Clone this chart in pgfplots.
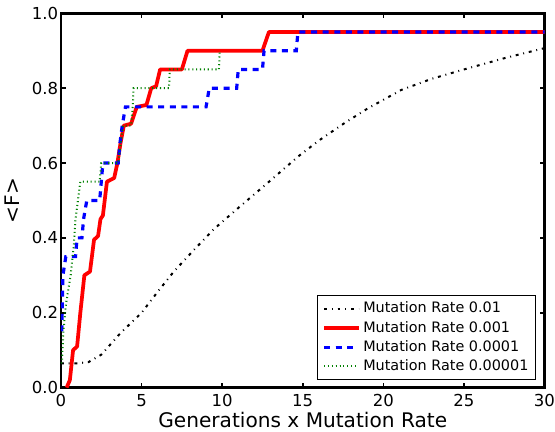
\documentclass[border=0pt]{standalone}
\usepackage{pgfplots}
\pgfplotsset{compat=1.18}
\usepackage{fontspec}
\setmainfont{DejaVu Sans}
\begin{document}
\begin{tikzpicture}
\begin{axis}[
  scale only axis, width=363pt, height=281pt,
  xmin=0, xmax=30, ymin=0, ymax=1,
  xtick={0,5,10,15,20,25,30},
  ytick={0,0.2,0.4,0.6,0.8,1},
  yticklabel style={/pgf/number format/fixed,/pgf/number format/fixed zerofill,/pgf/number format/precision=1},
  /pgf/number format/assume math mode=true,
  tick label style={font=\fontsize{12.4}{14}\selectfont, inner sep=0pt},
  xticklabel style={yshift=-5pt},
  yticklabel style={xshift=-2pt},
  label style={font=\fontsize{15.1}{17}\selectfont},
  xlabel={Generations x Mutation Rate},
  ylabel={<F>},
  xlabel style={yshift=0pt},
  ylabel style={yshift=6pt},
  axis line style={line width=1.8pt},
  major tick length=3.5pt,
  every tick/.style={black,line width=1.2pt},
  tick align=inside,
  legend image code/.code={\draw[#1,line cap=butt] (0pt,0pt) -- (17pt,0pt); \path (0pt,0pt) -- (26pt,0pt);},
  legend style={at={(0.983,0.021)},anchor=south east,draw=black,line width=0.6pt,
    font=\fontsize{10.8}{13}\selectfont,cells={anchor=west},row sep=0.8pt,
    inner xsep=3.6pt, inner ysep=2.8pt},
]
\addplot[black, line width=1.5pt, dash pattern=on 2.2pt off 3.6pt on 0.7pt off 3.6pt] coordinates {
(0,0.065)(1,0.065)(1.7,0.068)(2.5,0.088)(3.7,0.146)(5,0.2)(6,0.256)(7,0.31)(8.25,0.368)(9.5,0.424)(11,0.48)(12.5,0.535)(14.76,0.619)(16,0.66)(17.6,0.707)(19,0.745)(21.1,0.795)(23,0.825)(25,0.85)(27.5,0.88)(30,0.907)};
\addlegendentry{Mutation Rate 0.01}
\addplot[red, line width=2.8pt, line join=round] coordinates {
(0.35,0)(0.55,0.02)(0.75,0.1)(1.0,0.11)(1.2,0.2)(1.45,0.3)(1.8,0.31)(2.05,0.395)(2.3,0.405)(2.45,0.45)(2.6,0.46)(2.85,0.55)(3.3,0.56)(3.5,0.6)(3.7,0.655)(3.9,0.7)(4.35,0.705)(4.7,0.75)(5.3,0.755)(5.6,0.8)(5.9,0.805)(6.15,0.85)(7.5,0.85)(7.85,0.9)(12.5,0.9)(12.9,0.95)(30,0.95)};
\addlegendentry{Mutation Rate 0.001}
\addplot[blue, line width=2.4pt, dash pattern=on 4.5pt off 4.2pt] coordinates {
(0.05,0.15)(0.12,0.3)(0.3,0.35)(0.9,0.35)(1.0,0.4)(1.3,0.4)(1.4,0.45)(1.6,0.5)(2.4,0.5)(2.5,0.55)(2.6,0.6)(3.55,0.6)(3.65,0.65)(3.8,0.7)(4.0,0.75)(9.0,0.75)(9.2,0.8)(10.9,0.8)(11.0,0.85)(12.5,0.85)(12.6,0.9)(14.6,0.9)(14.7,0.95)(30,0.95)};
\addlegendentry{Mutation Rate 0.0001}
\addplot[color={rgb,1:red,0;green,0.5;blue,0}, line width=1.5pt, dash pattern=on 0.8pt off 2.1pt] coordinates {
(0,0.065)(0.06,0.07)(0.15,0.15)(0.3,0.22)(0.41,0.25)(0.6,0.3)(0.72,0.35)(0.8,0.38)(0.9,0.45)(1.05,0.5)(1.2,0.55)(2.4,0.55)(2.5,0.6)(3.55,0.6)(3.7,0.65)(3.85,0.7)(4.35,0.7)(4.45,0.75)(4.5,0.8)(6.7,0.8)(6.75,0.85)(9.8,0.85)(9.85,0.9)};
\addlegendentry{Mutation Rate 0.00001}
\end{axis}
\path (current axis.north) -- ++(0,10pt);
\end{tikzpicture}
\end{document}
